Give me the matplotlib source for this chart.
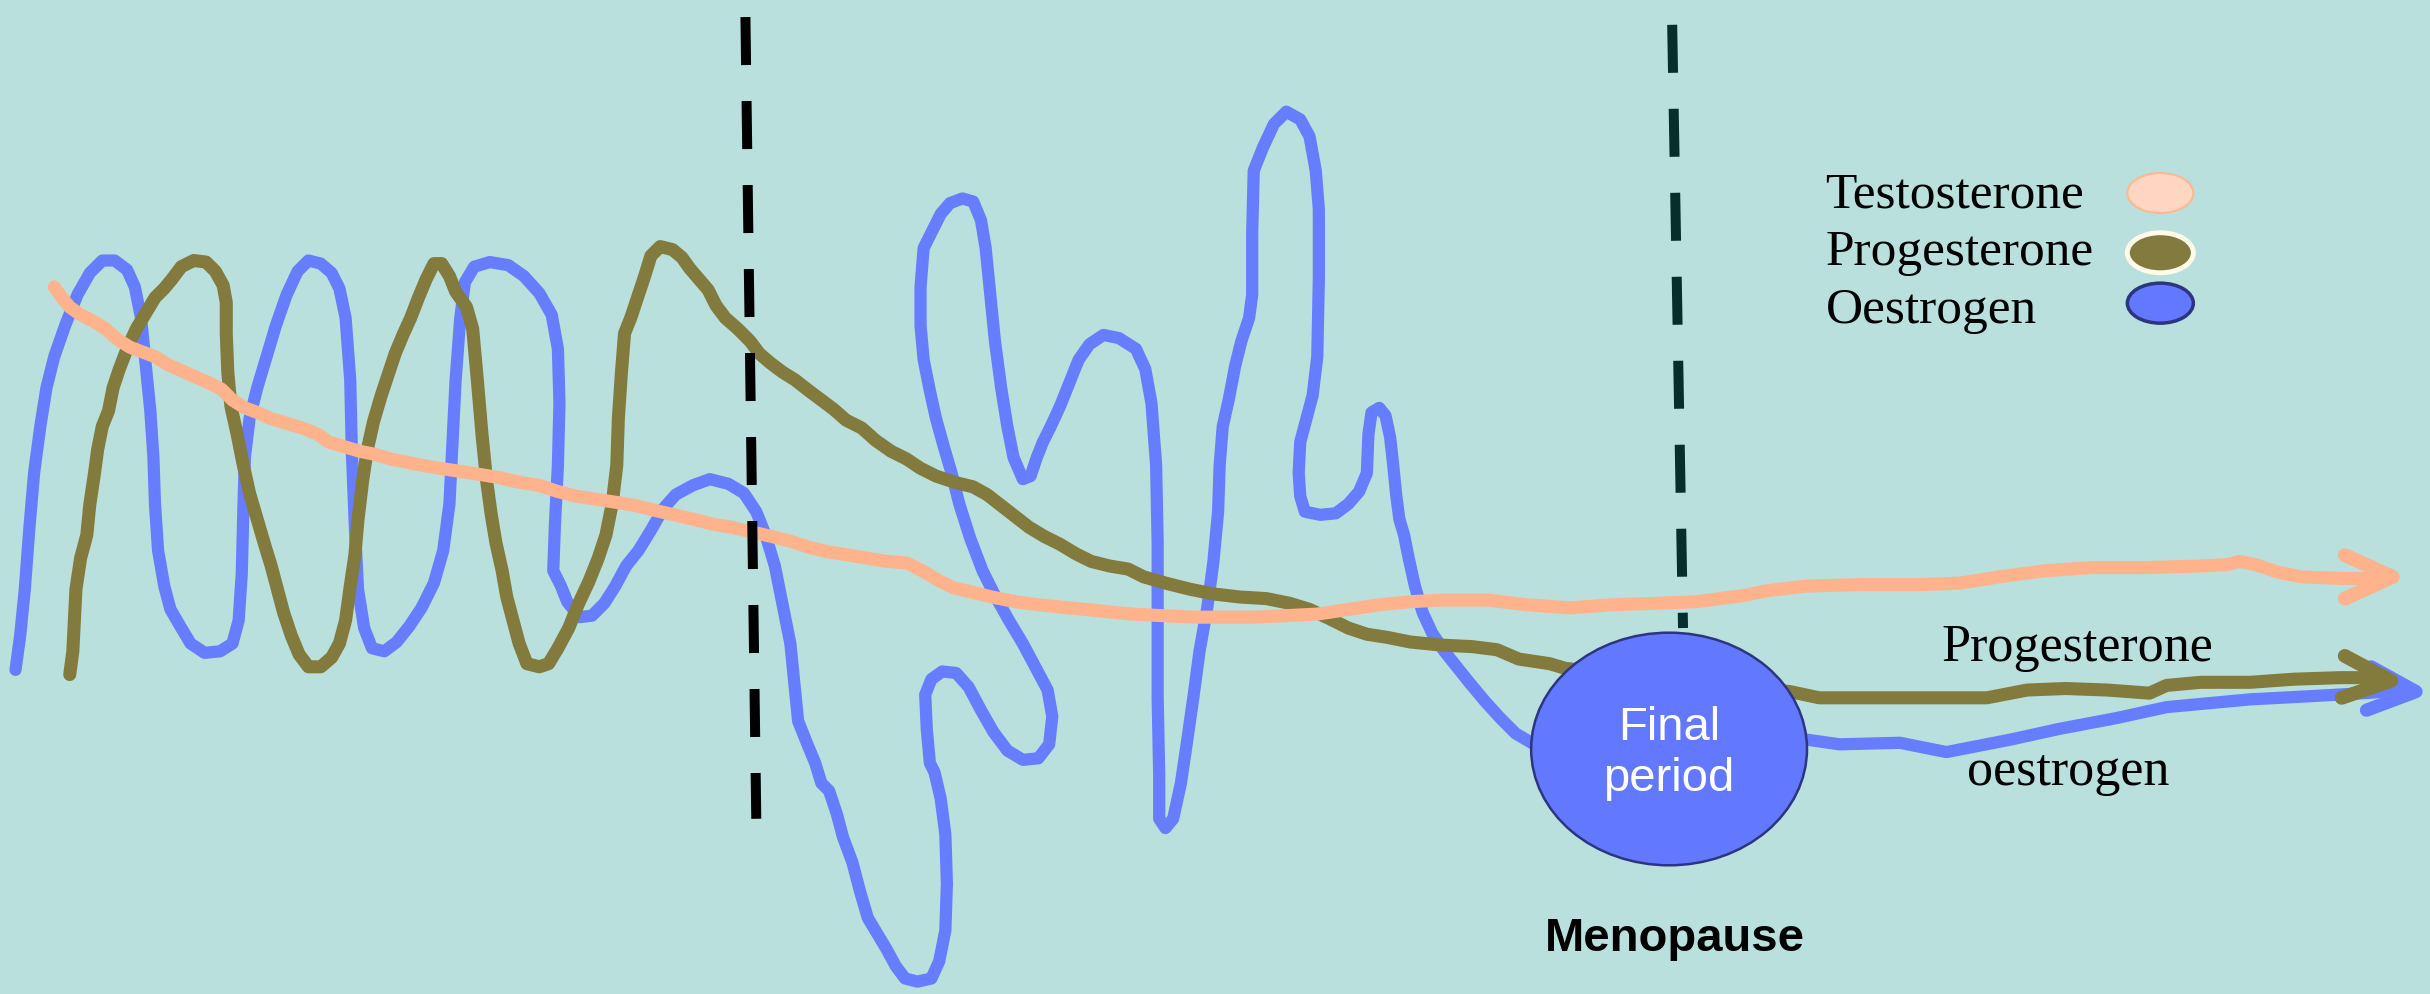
import matplotlib.pyplot as plt
from matplotlib.patches import Ellipse

# ----- hand-traced hormone curves (picture units, y grows downward) ---------
oestrogen_x = [10, 13, 16, 19, 22, 26, 30, 35, 42, 50, 58, 66, 74, 82, 87, 91, 94, 97, 99, 100,
               102, 106, 110, 117, 123, 132, 142, 150, 154, 156, 157, 158, 161, 166, 172, 178,
               185, 192, 199, 207, 214, 219, 223, 226, 227, 229, 231, 235, 240, 248, 256, 264,
               272, 280, 286, 290, 292, 294, 297, 300, 306, 316, 328, 338, 348, 356, 360, 361,
               360, 358, 357, 362, 366, 374, 382, 390, 397, 404, 412, 420, 428, 436, 447, 458,
               470, 480, 488, 494, 500, 505, 510, 513, 515, 521, 526, 530, 535, 540, 544, 550,
               555, 560, 566, 572, 578, 584, 592, 601, 606, 610, 611, 610, 607, 603, 600, 598,
               597, 601, 608, 617, 625, 633, 641, 650, 660, 670, 677, 679, 676, 668, 660, 651,
               642, 634, 626, 619, 614, 609, 604, 600, 596, 594, 594, 596, 602, 607, 613, 621,
               628, 633, 636, 639, 642, 646, 650, 654, 660, 665, 669, 673, 678, 684, 690, 696,
               703, 712, 722, 733, 739, 743, 746, 747, 747, 747, 748, 748, 752, 757, 762, 766,
               770, 774, 779, 783, 786, 787, 789, 793, 797, 801, 806, 808, 808, 809, 815, 822,
               830, 839, 845, 849, 851, 851, 850, 847, 843, 839, 838, 839, 842, 852, 862, 870,
               877, 882, 883, 885, 890, 894, 897, 899, 901, 903, 906, 909, 913, 918, 924, 932,
               940, 948, 958, 968, 978, 990, 1000, 1150, 1166, 1187, 1226, 1256, 1297, 1329,
               1366, 1398, 1452, 1490, 1525, 1556]
oestrogen_y = [432, 410, 380, 340, 305, 275, 250, 230, 210, 190, 176, 168, 168, 174, 185, 205,
               235, 265, 295, 325, 355, 378, 393, 405, 415, 421, 420, 415, 400, 370, 330, 295,
               270, 250, 230, 210, 190, 175, 168, 170, 176, 186, 205, 245, 290, 340, 380, 405,
               418, 420, 414, 404, 392, 376, 355, 325, 285, 245, 205, 182, 172, 169, 171, 178,
               189, 203, 225, 260, 300, 340, 368, 378, 388, 398, 397, 389, 378, 365, 355, 342,
               328, 319, 313, 309, 312, 318, 330, 345, 365, 390, 415, 445, 465, 480, 492, 505,
               510, 525, 540, 556, 575, 592, 602, 612, 623, 631, 633, 631, 620, 600, 570, 538,
               515, 498, 492, 470, 448, 438, 433, 434, 443, 458, 472, 484, 490, 489, 480, 462,
               445, 430, 415, 400, 384, 368, 347, 325, 305, 288, 270, 252, 232, 210, 185, 160,
               148, 138, 131, 128, 130, 142, 160, 190, 220, 250, 275, 295, 309, 307, 295, 285,
               275, 262, 247, 232, 222, 216, 218, 225, 238, 260, 300, 350, 400, 450, 500, 528,
               534, 528, 505, 478, 450, 420, 392, 362, 330, 300, 275, 257, 236, 220, 205, 190,
               150, 110, 95, 80, 72, 77, 88, 110, 135, 180, 230, 255, 270, 285, 305, 320, 330,
               332, 331, 325, 317, 305, 280, 266, 263, 268, 282, 300, 320, 335, 345, 360, 378,
               395, 408, 420, 430, 440, 452, 463, 473, 480, 485, 474, 477, 480, 479, 485, 477,
               470, 463, 456, 451, 449, 447, 445]

progesterone_x = [45, 47, 48, 49, 52, 56, 58, 61, 63, 66, 70, 73, 77, 82, 88, 94, 100, 106, 111,
                  117, 125, 133, 139, 144, 146, 146, 147, 149, 153, 157, 161, 166, 171, 175, 179,
                  183, 188, 193, 199, 207, 214, 219, 223, 226, 229, 231, 234, 237, 241, 246, 251,
                  255, 260, 265, 270, 275, 280, 285, 290, 294, 301, 305, 308, 311, 314, 317, 320,
                  324, 327, 331, 335, 340, 348, 354, 360, 367, 373, 380, 386, 391, 395, 398, 399,
                  401, 403, 407, 412, 416, 420, 426, 434, 440, 445, 451, 457, 462, 468, 476, 484,
                  490, 497, 505, 513, 522, 530, 538, 546, 556, 565, 575, 585, 594, 604, 616, 628,
                  637, 646, 655, 664, 674, 684, 694, 704, 716, 728, 738, 752, 768, 783, 800, 817,
                  832, 845, 858, 870, 882, 895, 910, 930, 950, 966, 980, 1000, 1010, 1155, 1174,
                  1210, 1250, 1282, 1308, 1333, 1360, 1387, 1398, 1420, 1452, 1480, 1510, 1540]
progesterone_y = [435, 420, 400, 380, 360, 345, 325, 305, 290, 275, 265, 250, 238, 225, 212, 202,
                  192, 186, 180, 172, 168, 169, 175, 184, 195, 215, 240, 262, 280, 300, 318, 335,
                  352, 365, 380, 395, 410, 422, 430, 430, 424, 415, 400, 378, 358, 335, 310, 290,
                  272, 255, 240, 228, 216, 205, 192, 180, 170, 170, 178, 188, 198, 212, 245, 280,
                  310, 332, 350, 368, 385, 400, 415, 428, 430, 428, 418, 405, 390, 375, 360, 345,
                  325, 300, 270, 240, 215, 205, 190, 178, 165, 159, 161, 166, 173, 180, 187, 197,
                  205, 212, 220, 228, 234, 240, 245, 252, 258, 264, 271, 276, 284, 291, 296, 302,
                  307, 311, 314, 319, 326, 333, 340, 346, 351, 357, 362, 365, 367, 372, 376, 380,
                  383, 385, 386, 389, 393, 399, 405, 409, 411, 414, 416, 417, 419, 425, 428, 431,
                  446, 450, 450, 450, 450, 445, 444, 445, 447, 442, 440, 440, 438, 437, 437]

testosterone_x = [35, 40, 45, 52, 60, 68, 76, 84, 92, 100, 108, 117, 126, 135, 143, 150, 158, 166,
                  175, 185, 195, 205, 212, 222, 232, 242, 252, 262, 272, 284, 297, 310, 322, 335,
                  348, 360, 372, 385, 398, 410, 422, 435, 448, 460, 472, 485, 498, 510, 522, 535,
                  548, 560, 572, 585, 595, 605, 615, 628, 640, 655, 670, 690, 710, 730, 750, 770,
                  790, 810, 830, 850, 870, 890, 910, 930, 960, 985, 1013, 1040, 1070, 1095, 1110,
                  1125, 1140, 1165, 1200, 1240, 1265, 1290, 1320, 1350, 1385, 1420, 1438, 1445,
                  1455, 1470, 1485, 1510, 1540]
testosterone_y = [185, 192, 198, 203, 207, 212, 219, 224, 227, 230, 235, 239, 243, 247, 251, 258,
                  263, 266, 270, 273, 276, 280, 285, 288, 291, 293, 296, 298, 300, 302, 304, 306,
                  308, 311, 313, 317, 320, 322, 324, 326, 329, 332, 335, 338, 340, 343, 346, 349,
                  353, 356, 358, 360, 362, 363, 368, 374, 379, 382, 385, 388, 390, 392, 394, 396,
                  397, 398, 398, 398, 397, 396, 393, 390, 388, 387, 387, 390, 392, 390, 389, 388,
                  386, 384, 381, 378, 377, 377, 376, 372, 368, 366, 366, 365, 364, 362, 364, 369,
                  372, 373, 373]

# arrow heads: (arm, tip, arm)
testosterone_head_x = [1513, 1544, 1513]
testosterone_head_y = [358, 372, 386]
progesterone_head_x = [1513, 1543, 1511]
progesterone_head_y = [423, 439, 450]
oestrogen_head_x = [1530, 1559, 1527]
oestrogen_head_y = [430, 446, 458]

# dashed phase markers (top, bottom)
marker1_x = [481, 488]
marker1_y = [11, 528]
marker2_x = [1079, 1086]
marker2_y = [16, 405]

legend_labels = ["Testosterone", "Progesterone", "Oestrogen"]
legend_baselines = [133.5, 171, 208]
legend_dot_y = [124.5, 163, 195.5]

BG = "#B9E0DC"
BLUE = "#667DFF"
OLIVE = "#837A3E"
SALMON = "#FFB38C"

fig = plt.figure(figsize=(24.3, 9.94), dpi=100)
fig.patch.set_facecolor(BG)
ax = fig.add_axes([0, 0, 1, 1])
ax.set_facecolor(BG)
ax.set_xlim(0, 1568)
ax.set_ylim(641, 0)
ax.axis("off")

line_kw = dict(solid_capstyle="round", solid_joinstyle="round")
ax.plot(oestrogen_x, oestrogen_y, color=BLUE, lw=8.8, zorder=2, **line_kw)
ax.plot(oestrogen_head_x, oestrogen_head_y, color=BLUE, lw=9.5, zorder=2, **line_kw)
ax.plot(progesterone_x, progesterone_y, color=OLIVE, lw=9.4, zorder=3, **line_kw)
ax.plot(progesterone_head_x, progesterone_head_y, color=OLIVE, lw=10, zorder=3, **line_kw)
ax.plot(testosterone_x, testosterone_y, color=SALMON, lw=9.4, zorder=4, **line_kw)
ax.plot(testosterone_head_x, testosterone_head_y, color=SALMON, lw=10, zorder=4, **line_kw)

ax.plot(marker1_x, marker1_y, color="black", lw=7.2, ls=(0, (4.8, 3.6)),
        dash_capstyle="butt", zorder=5)
ax.plot(marker2_x, marker2_y, color="#072E2A", lw=7.2, ls=(0, (4.8, 3.6)),
        dash_capstyle="butt", zorder=5)

# final period bubble
ax.add_patch(Ellipse((1077, 483), 178, 150, facecolor="#6279FF",
                     edgecolor="#2B3580", lw=1.8, zorder=6))
ax.text(1077, 486, "Final\nperiod", ha="center", va="center", color="white",
        fontsize=34, family="Liberation Sans", linespacing=1.2, zorder=7)
ax.text(1081, 613, "Menopause", ha="center", va="baseline", color="black",
        fontsize=34, fontweight="bold", family="Liberation Sans", zorder=7)

# curve labels on the right
ax.text(1253, 426, "Progesterone", ha="left", va="baseline", fontsize=37.5,
        family="Liberation Serif", zorder=7)
ax.text(1269, 506, "oestrogen", ha="left", va="baseline", fontsize=37.5,
        family="Liberation Serif", zorder=7)

# legend
dot_style = [("#FFD6C2", "#FFB890", 1.5), (OLIVE, "#FFFBEA", 3.5), ("#6279FF", "#2B3580", 2.5)]
for lab, yb, yd, (fc, ec, lw) in zip(legend_labels, legend_baselines, legend_dot_y, dot_style):
    ax.text(1178, yb, lab, ha="left", va="baseline", fontsize=37,
            family="Liberation Serif", zorder=7)
    ax.add_patch(Ellipse((1394, yd), 42.6, 25.8, facecolor=fc, edgecolor=ec,
                         lw=lw, zorder=7))

fig.savefig("out.png", dpi=100, facecolor=BG)
